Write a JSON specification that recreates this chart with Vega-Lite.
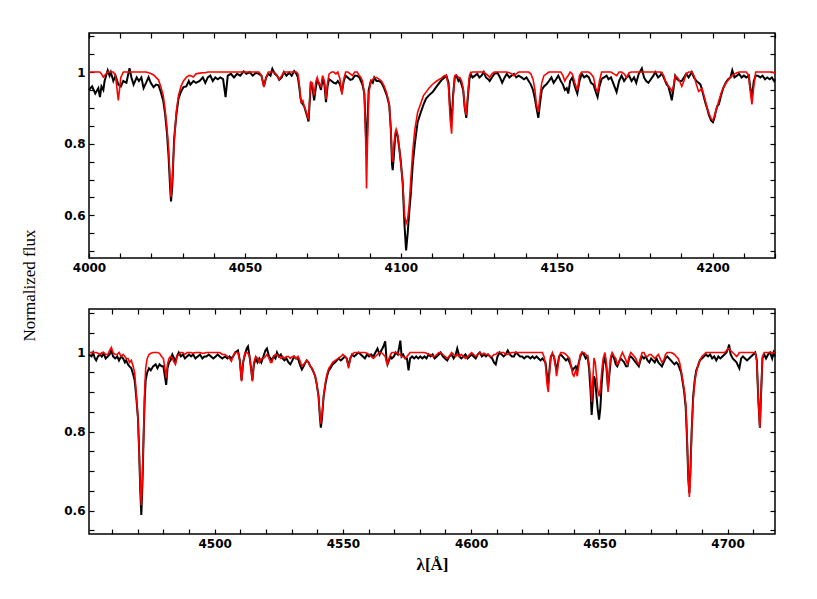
{
  "$schema": "https://vega.github.io/schema/vega-lite/v6.json",
  "background": "white",
  "padding": {"left": 19, "top": 29, "right": 20, "bottom": 10},
  "spacing": 51,
  "bounds": "flush",
  "config": {
    "view": {"stroke": "black", "strokeWidth": 1.5},
    "axis": {
      "grid": false, "domain": false, "tickColor": "black", "tickWidth": 1.2, "tickSize": -5,
      "labelFont": "DejaVu Sans", "labelFontWeight": "bold", "labelFontSize": 12, "labelColor": "black",
      "labelFlush": false, "labelOverlap": false,
      "titleColor": "black", "titleFontWeight": "normal"
    }
  },
  "datasets": {
    "p1": [
      {"w":4000,"o":0.95,"m":1.0},{"w":4001,"o":0.96,"m":1.0},{"w":4002,"o":0.94,"m":1.0},{"w":4003,"o":0.955,"m":1.0},{"w":4003.5,"o":0.93,"m":1.0},
      {"w":4004,"o":0.96,"m":0.995},{"w":4004.6,"o":0.95,"m":0.986},{"w":4005,"o":0.975,"m":0.99},{"w":4006,"o":1.005,"m":1.0},{"w":4006.6,"o":0.99,"m":1.0},
      {"w":4007,"o":1.0,"m":1.0},{"w":4007.8,"o":0.975,"m":1.0},{"w":4008.5,"o":0.99,"m":0.99},{"w":4009.4,"o":0.965,"m":0.921},{"w":4010.2,"o":0.96,"m":0.985},
      {"w":4011,"o":0.975,"m":1.0},{"w":4012,"o":0.97,"m":1.0},{"w":4013,"o":1.011,"m":1.0},{"w":4013.6,"o":0.985,"m":1.0},{"w":4014.3,"o":0.965,"m":1.0},
      {"w":4015.3,"o":0.985,"m":1.0},{"w":4016,"o":0.975,"m":1.0},{"w":4016.8,"o":0.985,"m":1.0},{"w":4017.5,"o":0.955,"m":1.0},{"w":4018.3,"o":0.97,"m":1.0},
      {"w":4019.1,"o":0.986,"m":0.998},{"w":4019.8,"o":0.97,"m":0.996},{"w":4020.7,"o":0.958,"m":0.992},{"w":4021.5,"o":0.965,"m":0.985},{"w":4022.3,"o":0.963,"m":0.978},
      {"w":4023,"o":0.945,"m":0.96},{"w":4023.8,"o":0.92,"m":0.935},{"w":4024.4,"o":0.884,"m":0.895},{"w":4025,"o":0.83,"m":0.845},{"w":4025.5,"o":0.768,"m":0.79},
      {"w":4026,"o":0.68,"m":0.7},{"w":4026.3,"o":0.639,"m":0.651},{"w":4026.7,"o":0.68,"m":0.7},{"w":4027.3,"o":0.814,"m":0.8},{"w":4028,"o":0.88,"m":0.89},
      {"w":4028.7,"o":0.926,"m":0.935},{"w":4029.5,"o":0.945,"m":0.96},{"w":4030.3,"o":0.958,"m":0.975},{"w":4031.2,"o":0.96,"m":0.985},{"w":4032,"o":0.975,"m":0.99},
      {"w":4032.5,"o":0.965,"m":0.99},{"w":4033.5,"o":0.975,"m":0.986},{"w":4034.3,"o":0.97,"m":0.995},{"w":4035.5,"o":0.975,"m":0.997},{"w":4036.5,"o":0.985,"m":0.998},
      {"w":4037.3,"o":0.97,"m":0.998},{"w":4038.1,"o":0.985,"m":1.0},{"w":4038.9,"o":0.99,"m":1.0},{"w":4039.7,"o":0.975,"m":1.0},{"w":4040.5,"o":0.985,"m":1.0},
      {"w":4041.3,"o":0.98,"m":1.0},{"w":4042.1,"o":0.985,"m":1.0},{"w":4043,"o":0.98,"m":1.0},{"w":4043.8,"o":0.93,"m":1.0},{"w":4044.5,"o":0.99,"m":1.0},
      {"w":4045.5,"o":0.995,"m":1.0},{"w":4046.5,"o":0.985,"m":1.0},{"w":4047.5,"o":0.995,"m":1.0},{"w":4048.5,"o":0.99,"m":1.0},{"w":4049.6,"o":1.002,"m":1.0},
      {"w":4050.5,"o":0.995,"m":1.0},{"w":4051.5,"o":1.0,"m":1.0},{"w":4052.5,"o":0.99,"m":1.0},{"w":4053.5,"o":0.998,"m":1.0},{"w":4054.5,"o":0.995,"m":1.0},
      {"w":4055.3,"o":0.99,"m":0.99},{"w":4056.1,"o":0.96,"m":0.958},{"w":4056.8,"o":0.985,"m":0.985},{"w":4057.5,"o":0.995,"m":1.0},{"w":4058.2,"o":0.99,"m":1.0},
      {"w":4058.8,"o":1.009,"m":1.0},{"w":4059.6,"o":0.995,"m":0.998},{"w":4060.3,"o":0.99,"m":0.99},{"w":4061,"o":0.978,"m":0.98},{"w":4061.8,"o":0.985,"m":0.99},
      {"w":4062.5,"o":1.0,"m":1.0},{"w":4063.3,"o":0.99,"m":1.0},{"w":4064.2,"o":0.998,"m":1.0},{"w":4065,"o":0.99,"m":1.0},{"w":4065.8,"o":1.003,"m":1.0},
      {"w":4066.5,"o":0.995,"m":1.0},{"w":4067,"o":0.985,"m":0.995},{"w":4067.4,"o":0.96,"m":0.97},{"w":4067.8,"o":0.93,"m":0.93},{"w":4068.1,"o":0.916,"m":0.915},
      {"w":4068.6,"o":0.91,"m":0.92},{"w":4069,"o":0.905,"m":0.905},{"w":4069.5,"o":0.89,"m":0.893},{"w":4070,"o":0.875,"m":0.88},{"w":4070.4,"o":0.862,"m":0.868},
      {"w":4070.8,"o":0.92,"m":0.93},{"w":4071.1,"o":0.965,"m":0.972},{"w":4071.6,"o":0.96,"m":0.97},{"w":4072.2,"o":0.921,"m":0.935},{"w":4072.8,"o":0.96,"m":0.975},
      {"w":4073.2,"o":0.975,"m":0.985},{"w":4073.7,"o":0.97,"m":0.97},{"w":4074.4,"o":0.95,"m":0.96},{"w":4074.9,"o":0.98,"m":0.99},{"w":4075.5,"o":0.965,"m":0.975},
      {"w":4076,"o":0.916,"m":0.925},{"w":4076.5,"o":0.96,"m":0.97},{"w":4077,"o":0.98,"m":0.995},{"w":4077.8,"o":0.975,"m":1.0},{"w":4078.5,"o":0.97,"m":1.0},
      {"w":4079.2,"o":0.968,"m":0.995},{"w":4079.8,"o":0.975,"m":1.0},{"w":4080.5,"o":0.965,"m":0.98},{"w":4081.1,"o":0.944,"m":0.937},{"w":4081.7,"o":0.975,"m":0.98},
      {"w":4082.3,"o":0.99,"m":1.0},{"w":4083,"o":0.985,"m":1.0},{"w":4083.8,"o":0.978,"m":0.995},{"w":4084.5,"o":0.98,"m":0.99},{"w":4085.2,"o":0.99,"m":1.0},
      {"w":4086,"o":0.99,"m":1.0},{"w":4086.7,"o":0.985,"m":0.99},{"w":4087.2,"o":0.975,"m":0.985},{"w":4087.7,"o":0.965,"m":0.975},{"w":4088.3,"o":0.94,"m":0.94},
      {"w":4088.7,"o":0.85,"m":0.82},{"w":4089,"o":0.77,"m":0.675},{"w":4089.3,"o":0.85,"m":0.8},{"w":4089.7,"o":0.95,"m":0.94},{"w":4090.4,"o":0.975,"m":0.975},
      {"w":4091,"o":0.97,"m":0.98},{"w":4091.5,"o":0.985,"m":0.985},{"w":4092.2,"o":0.975,"m":0.985},{"w":4093,"o":0.975,"m":0.98},{"w":4093.8,"o":0.97,"m":0.975},
      {"w":4094.7,"o":0.954,"m":0.96},{"w":4095.5,"o":0.935,"m":0.94},{"w":4096.3,"o":0.907,"m":0.91},{"w":4096.8,"o":0.84,"m":0.84},{"w":4097.2,"o":0.74,"m":0.76},
      {"w":4097.4,"o":0.726,"m":0.749},{"w":4097.8,"o":0.77,"m":0.8},{"w":4098.2,"o":0.82,"m":0.83},{"w":4098.5,"o":0.837,"m":0.84},{"w":4099,"o":0.82,"m":0.825},
      {"w":4099.5,"o":0.786,"m":0.79},{"w":4100,"o":0.75,"m":0.745},{"w":4100.6,"o":0.69,"m":0.693},{"w":4101.2,"o":0.57,"m":0.6},{"w":4101.7,"o":0.502,"m":0.577},
      {"w":4102.2,"o":0.55,"m":0.59},{"w":4102.7,"o":0.609,"m":0.63},{"w":4103.2,"o":0.66,"m":0.7},{"w":4103.8,"o":0.74,"m":0.777},{"w":4104.5,"o":0.8,"m":0.84},
      {"w":4105.4,"o":0.861,"m":0.888},{"w":4106.5,"o":0.89,"m":0.915},{"w":4107.3,"o":0.91,"m":0.935},{"w":4108.1,"o":0.926,"m":0.944},{"w":4109,"o":0.935,"m":0.955},
      {"w":4110.2,"o":0.944,"m":0.966},{"w":4111.5,"o":0.96,"m":0.975},{"w":4113,"o":0.977,"m":0.983},{"w":4114,"o":0.985,"m":0.99},{"w":4114.6,"o":0.99,"m":0.99},
      {"w":4115.3,"o":0.97,"m":0.96},{"w":4115.8,"o":0.9,"m":0.87},{"w":4116.3,"o":0.86,"m":0.828},{"w":4116.8,"o":0.94,"m":0.93},{"w":4117.3,"o":0.985,"m":0.99},
      {"w":4117.8,"o":0.99,"m":0.992},{"w":4118.5,"o":0.975,"m":0.985},{"w":4118.9,"o":0.98,"m":0.985},{"w":4119.5,"o":0.965,"m":0.975},{"w":4120,"o":0.95,"m":0.955},
      {"w":4120.5,"o":0.9,"m":0.9},{"w":4121,"o":0.872,"m":0.88},{"w":4121.5,"o":0.93,"m":0.94},{"w":4122,"o":0.98,"m":0.99},{"w":4122.4,"o":0.995,"m":0.998},
      {"w":4123,"o":0.985,"m":1.0},{"w":4123.8,"o":0.99,"m":1.0},{"w":4124.5,"o":0.995,"m":1.0},{"w":4125.2,"o":0.985,"m":1.0},{"w":4125.9,"o":0.99,"m":1.0},
      {"w":4126.6,"o":1.0,"m":1.0},{"w":4127.3,"o":0.985,"m":0.995},{"w":4128,"o":0.98,"m":0.99},{"w":4128.5,"o":0.975,"m":0.985},{"w":4129.2,"o":0.985,"m":0.995},
      {"w":4130,"o":0.995,"m":1.0},{"w":4131,"o":0.998,"m":1.0},{"w":4131.8,"o":0.985,"m":1.0},{"w":4132.5,"o":0.97,"m":1.0},{"w":4133.3,"o":0.985,"m":1.0},
      {"w":4134,"o":0.995,"m":1.0},{"w":4134.8,"o":0.985,"m":0.998},{"w":4135.5,"o":0.99,"m":0.995},{"w":4136.3,"o":0.995,"m":0.99},{"w":4137,"o":0.985,"m":0.995},
      {"w":4137.8,"o":0.99,"m":1.0},{"w":4138.7,"o":0.985,"m":1.0},{"w":4139.5,"o":0.98,"m":1.0},{"w":4140.3,"o":0.985,"m":1.0},{"w":4141,"o":0.975,"m":1.0},
      {"w":4141.7,"o":0.965,"m":0.995},{"w":4142.4,"o":0.95,"m":0.98},{"w":4143,"o":0.926,"m":0.95},{"w":4143.5,"o":0.9,"m":0.91},{"w":4144.1,"o":0.872,"m":0.888},
      {"w":4144.6,"o":0.91,"m":0.93},{"w":4145.2,"o":0.95,"m":0.97},{"w":4145.9,"o":0.96,"m":0.99},{"w":4146.7,"o":0.966,"m":0.995},{"w":4147.5,"o":0.975,"m":1.0},
      {"w":4148.3,"o":0.985,"m":1.0},{"w":4149,"o":0.97,"m":1.0},{"w":4149.8,"o":0.98,"m":1.0},{"w":4150.5,"o":0.99,"m":1.0},{"w":4151.3,"o":0.975,"m":1.0},
      {"w":4152,"o":0.965,"m":0.99},{"w":4152.6,"o":0.95,"m":0.975},{"w":4153.2,"o":0.955,"m":0.985},{"w":4153.7,"o":0.94,"m":0.99},{"w":4154.3,"o":0.975,"m":1.0},
      {"w":4155,"o":0.985,"m":0.995},{"w":4155.8,"o":0.96,"m":0.97},{"w":4156.6,"o":0.94,"m":0.949},{"w":4157.3,"o":0.975,"m":0.99},{"w":4158,"o":0.995,"m":1.0},
      {"w":4158.8,"o":0.985,"m":1.0},{"w":4159.6,"o":0.99,"m":1.0},{"w":4160.3,"o":0.985,"m":1.0},{"w":4161,"o":0.97,"m":0.995},{"w":4161.8,"o":0.965,"m":0.985},
      {"w":4162.5,"o":0.945,"m":0.955},{"w":4163.1,"o":0.93,"m":0.944},{"w":4163.7,"o":0.96,"m":0.975},{"w":4164.4,"o":0.981,"m":1.0},{"w":4165.2,"o":0.985,"m":1.0},
      {"w":4166,"o":0.99,"m":1.0},{"w":4166.6,"o":0.98,"m":1.0},{"w":4167.4,"o":0.985,"m":1.0},{"w":4168.3,"o":0.965,"m":0.995},{"w":4169.2,"o":0.944,"m":0.99},
      {"w":4170,"o":0.975,"m":1.0},{"w":4170.8,"o":0.99,"m":1.0},{"w":4171.6,"o":0.975,"m":0.995},{"w":4172.4,"o":0.985,"m":0.985},{"w":4173.2,"o":0.99,"m":0.998},
      {"w":4174,"o":0.975,"m":1.0},{"w":4174.8,"o":0.985,"m":1.0},{"w":4175.5,"o":0.97,"m":1.0},{"w":4176.3,"o":0.995,"m":1.0},{"w":4177.3,"o":1.01,"m":1.0},
      {"w":4178,"o":0.985,"m":1.0},{"w":4178.7,"o":0.975,"m":1.0},{"w":4179.4,"o":0.97,"m":1.0},{"w":4180.2,"o":0.98,"m":1.0},{"w":4181,"o":0.99,"m":1.0},
      {"w":4181.6,"o":1.0,"m":1.0},{"w":4182.5,"o":0.985,"m":1.0},{"w":4183.2,"o":0.99,"m":1.0},{"w":4183.7,"o":0.997,"m":0.998},{"w":4184.3,"o":0.985,"m":0.99},
      {"w":4184.8,"o":0.975,"m":0.975},{"w":4185.3,"o":0.965,"m":0.97},{"w":4185.8,"o":0.96,"m":0.96},{"w":4186.4,"o":0.94,"m":0.955},{"w":4186.9,"o":0.921,"m":0.946},
      {"w":4187.4,"o":0.95,"m":0.96},{"w":4188,"o":0.99,"m":0.99},{"w":4188.7,"o":0.98,"m":0.985},{"w":4189.4,"o":0.975,"m":0.975},{"w":4190.1,"o":0.975,"m":0.96},
      {"w":4190.8,"o":0.985,"m":0.975},{"w":4191.5,"o":0.995,"m":0.995},{"w":4192.3,"o":0.985,"m":1.0},{"w":4193.3,"o":1.0,"m":1.0},{"w":4194,"o":0.985,"m":0.99},
      {"w":4194.8,"o":0.975,"m":0.965},{"w":4195.5,"o":0.97,"m":0.946},{"w":4196.1,"o":0.965,"m":0.95},{"w":4196.6,"o":0.95,"m":0.954},{"w":4197.2,"o":0.93,"m":0.935},
      {"w":4197.8,"o":0.91,"m":0.915},{"w":4198.2,"o":0.9,"m":0.9},{"w":4198.8,"o":0.88,"m":0.885},{"w":4199.5,"o":0.865,"m":0.87},{"w":4200.1,"o":0.86,"m":0.865},
      {"w":4200.5,"o":0.87,"m":0.875},{"w":4201,"o":0.89,"m":0.89},{"w":4201.5,"o":0.905,"m":0.905},{"w":4202,"o":0.91,"m":0.92},{"w":4202.7,"o":0.935,"m":0.94},
      {"w":4203.4,"o":0.955,"m":0.955},{"w":4204.2,"o":0.97,"m":0.968},{"w":4205,"o":0.98,"m":0.978},{"w":4205.7,"o":0.985,"m":0.985},{"w":4206.3,"o":1.005,"m":0.99},
      {"w":4207,"o":0.985,"m":0.995},{"w":4207.8,"o":0.99,"m":0.998},{"w":4208.5,"o":0.995,"m":1.0},{"w":4209.3,"o":0.985,"m":1.0},{"w":4210,"o":0.99,"m":1.0},
      {"w":4210.8,"o":0.985,"m":1.0},{"w":4211.6,"o":0.99,"m":0.99},{"w":4212,"o":0.96,"m":0.95},{"w":4212.6,"o":0.93,"m":0.91},{"w":4213.2,"o":0.975,"m":0.96},
      {"w":4213.8,"o":0.99,"m":1.0},{"w":4214.5,"o":0.99,"m":1.0},{"w":4215.3,"o":0.985,"m":1.0},{"w":4216,"o":0.99,"m":1.0},{"w":4216.8,"o":0.98,"m":1.0},
      {"w":4217.5,"o":0.985,"m":1.0},{"w":4218.3,"o":0.98,"m":1.0},{"w":4219,"o":0.985,"m":1.0},{"w":4219.7,"o":0.975,"m":0.998},{"w":4220,"o":0.98,"m":1.0}
    ],
    "p2": [
      {"w":4451,"o":0.995,"m":1.0},{"w":4452,"o":0.99,"m":1.0},{"w":4452.6,"o":1.0,"m":1.0},{"w":4453.3,"o":0.985,"m":1.0},{"w":4453.8,"o":0.98,"m":1.0},
      {"w":4454.5,"o":0.99,"m":0.998},{"w":4455.3,"o":0.995,"m":0.995},{"w":4456,"o":0.99,"m":1.0},{"w":4456.7,"o":0.998,"m":1.0},{"w":4457.5,"o":0.985,"m":0.995},
      {"w":4458.3,"o":0.99,"m":0.995},{"w":4459,"o":0.995,"m":1.005},{"w":4459.7,"o":1.005,"m":1.013},{"w":4460.4,"o":0.99,"m":1.0},{"w":4461.2,"o":0.985,"m":0.995},
      {"w":4462,"o":0.99,"m":0.995},{"w":4462.7,"o":0.98,"m":1.0},{"w":4463.5,"o":0.99,"m":0.99},{"w":4464.3,"o":0.985,"m":0.995},{"w":4465,"o":0.975,"m":0.99},
      {"w":4465.5,"o":0.98,"m":0.985},{"w":4466.2,"o":0.97,"m":0.985},{"w":4466.8,"o":0.965,"m":0.975},{"w":4467.5,"o":0.96,"m":0.98},{"w":4468.2,"o":0.945,"m":0.965},
      {"w":4468.8,"o":0.93,"m":0.95},{"w":4469.4,"o":0.89,"m":0.9},{"w":4470.1,"o":0.834,"m":0.83},{"w":4470.6,"o":0.74,"m":0.74},{"w":4471,"o":0.65,"m":0.66},
      {"w":4471.4,"o":0.589,"m":0.614},{"w":4471.8,"o":0.66,"m":0.68},{"w":4472.3,"o":0.79,"m":0.79},{"w":4472.7,"o":0.88,"m":0.9},{"w":4473.1,"o":0.93,"m":0.96},
      {"w":4473.7,"o":0.95,"m":0.985},{"w":4474.4,"o":0.96,"m":0.995},{"w":4475.1,"o":0.955,"m":0.998},{"w":4476,"o":0.965,"m":1.0},{"w":4477,"o":0.97,"m":1.0},
      {"w":4477.7,"o":0.96,"m":1.0},{"w":4478.5,"o":0.97,"m":0.998},{"w":4479.3,"o":0.965,"m":0.99},{"w":4480,"o":0.965,"m":0.985},{"w":4480.6,"o":0.94,"m":0.96},
      {"w":4481.1,"o":0.918,"m":0.935},{"w":4481.6,"o":0.96,"m":0.97},{"w":4482.2,"o":0.975,"m":0.985},{"w":4482.8,"o":0.98,"m":0.99},{"w":4483.5,"o":0.995,"m":0.985},
      {"w":4484.2,"o":0.985,"m":0.975},{"w":4484.7,"o":0.975,"m":0.97},{"w":4485.3,"o":0.99,"m":0.99},{"w":4486,"o":1.0,"m":0.995},{"w":4486.8,"o":0.99,"m":1.0},
      {"w":4487.6,"o":0.995,"m":1.0},{"w":4488.4,"o":0.985,"m":0.995},{"w":4489.2,"o":0.99,"m":1.0},{"w":4490,"o":0.995,"m":1.0},{"w":4490.8,"o":0.99,"m":1.0},
      {"w":4491.6,"o":0.995,"m":0.998},{"w":4492.5,"o":0.985,"m":1.0},{"w":4493.4,"o":0.99,"m":1.0},{"w":4494.3,"o":0.995,"m":1.0},{"w":4495.2,"o":0.985,"m":0.998},
      {"w":4496,"o":0.99,"m":0.998},{"w":4496.8,"o":0.99,"m":1.0},{"w":4497.7,"o":0.995,"m":1.0},{"w":4498.6,"o":0.99,"m":1.0},{"w":4499.5,"o":0.985,"m":1.0},
      {"w":4500.4,"o":0.99,"m":1.0},{"w":4501.2,"o":0.995,"m":1.0},{"w":4502,"o":0.99,"m":1.0},{"w":4503,"o":0.985,"m":0.995},{"w":4504,"o":0.99,"m":0.995},
      {"w":4505,"o":0.985,"m":0.99},{"w":4505.8,"o":0.99,"m":0.985},{"w":4506.5,"o":0.985,"m":0.978},{"w":4507.2,"o":0.99,"m":0.99},{"w":4508,"o":1.0,"m":1.0},
      {"w":4509.1,"o":1.005,"m":1.0},{"w":4509.8,"o":0.98,"m":0.98},{"w":4510.5,"o":0.93,"m":0.927},{"w":4511.1,"o":0.975,"m":0.975},{"w":4511.8,"o":0.995,"m":1.0},
      {"w":4512.5,"o":1.01,"m":1.0},{"w":4513,"o":1.015,"m":0.998},{"w":4513.6,"o":0.99,"m":0.99},{"w":4514.2,"o":0.96,"m":0.96},{"w":4514.7,"o":0.93,"m":0.927},
      {"w":4515.3,"o":0.97,"m":0.975},{"w":4516,"o":0.985,"m":0.99},{"w":4516.7,"o":0.975,"m":0.985},{"w":4517.4,"o":0.985,"m":0.975},{"w":4518.2,"o":0.975,"m":0.985},
      {"w":4519,"o":0.99,"m":0.985},{"w":4519.8,"o":1.005,"m":0.99},{"w":4520.4,"o":1.01,"m":0.995},{"w":4521.2,"o":0.99,"m":0.985},{"w":4521.8,"o":0.985,"m":0.975},
      {"w":4522.3,"o":0.98,"m":0.975},{"w":4523,"o":0.99,"m":0.99},{"w":4523.7,"o":0.985,"m":0.995},{"w":4524.3,"o":1.0,"m":0.995},{"w":4525,"o":0.99,"m":0.99},
      {"w":4525.8,"o":0.995,"m":0.985},{"w":4526.5,"o":0.985,"m":0.99},{"w":4527.2,"o":0.98,"m":0.985},{"w":4528,"o":0.985,"m":0.99},{"w":4528.8,"o":0.975,"m":0.99},
      {"w":4529.5,"o":0.97,"m":0.985},{"w":4530.3,"o":0.98,"m":0.99},{"w":4531,"o":0.99,"m":0.99},{"w":4531.7,"o":0.985,"m":0.985},{"w":4532.5,"o":0.985,"m":0.99},
      {"w":4533.2,"o":0.97,"m":0.98},{"w":4534,"o":0.957,"m":0.965},{"w":4534.7,"o":0.965,"m":0.97},{"w":4535.4,"o":0.975,"m":0.975},{"w":4535.9,"o":0.98,"m":0.98},
      {"w":4536.6,"o":0.975,"m":0.975},{"w":4537.3,"o":0.965,"m":0.965},{"w":4537.9,"o":0.96,"m":0.96},{"w":4538.6,"o":0.95,"m":0.95},{"w":4539.2,"o":0.94,"m":0.94},
      {"w":4539.8,"o":0.92,"m":0.92},{"w":4540.5,"o":0.89,"m":0.89},{"w":4541,"o":0.84,"m":0.845},{"w":4541.4,"o":0.81,"m":0.82},{"w":4541.8,"o":0.83,"m":0.84},
      {"w":4542.5,"o":0.89,"m":0.89},{"w":4543.2,"o":0.92,"m":0.925},{"w":4543.8,"o":0.94,"m":0.945},{"w":4544.5,"o":0.955,"m":0.96},{"w":4545.1,"o":0.96,"m":0.965},
      {"w":4546,"o":0.97,"m":0.975},{"w":4547,"o":0.975,"m":0.98},{"w":4548.3,"o":0.985,"m":0.985},{"w":4549.2,"o":0.98,"m":0.99},{"w":4550,"o":0.985,"m":0.995},
      {"w":4550.8,"o":0.99,"m":0.99},{"w":4551.5,"o":0.985,"m":0.985},{"w":4552.2,"o":0.965,"m":0.96},{"w":4552.9,"o":0.985,"m":0.985},{"w":4553.6,"o":0.995,"m":0.995},
      {"w":4554.4,"o":0.99,"m":1.0},{"w":4555.2,"o":0.995,"m":1.0},{"w":4556.1,"o":1.0,"m":1.0},{"w":4557,"o":0.995,"m":1.0},{"w":4557.8,"o":0.99,"m":1.0},
      {"w":4558.6,"o":0.985,"m":1.0},{"w":4559.4,"o":0.995,"m":0.998},{"w":4560.2,"o":0.99,"m":0.995},{"w":4561,"o":0.995,"m":0.99},{"w":4561.9,"o":0.99,"m":0.985},
      {"w":4562.7,"o":1.0,"m":0.99},{"w":4563.5,"o":1.01,"m":0.995},{"w":4564.3,"o":0.995,"m":1.0},{"w":4565,"o":1.005,"m":1.0},{"w":4565.8,"o":1.015,"m":0.995},
      {"w":4566.5,"o":1.028,"m":0.99},{"w":4567,"o":0.985,"m":0.975},{"w":4567.4,"o":0.97,"m":0.97},{"w":4568,"o":0.98,"m":0.985},{"w":4568.6,"o":0.99,"m":0.995},
      {"w":4569.1,"o":0.985,"m":1.0},{"w":4569.9,"o":0.99,"m":1.0},{"w":4570.6,"o":1.0,"m":1.0},{"w":4571.4,"o":0.995,"m":0.998},{"w":4572,"o":1.015,"m":0.995},
      {"w":4572.4,"o":1.03,"m":0.995},{"w":4572.9,"o":0.99,"m":0.99},{"w":4573.5,"o":0.995,"m":0.99},{"w":4574.3,"o":0.985,"m":0.985},{"w":4575,"o":0.985,"m":0.99},
      {"w":4575.6,"o":0.955,"m":0.995},{"w":4576.2,"o":0.985,"m":1.0},{"w":4577,"o":0.99,"m":1.0},{"w":4577.8,"o":0.985,"m":1.0},{"w":4578.6,"o":0.99,"m":1.0},
      {"w":4579.4,"o":0.985,"m":1.0},{"w":4580.2,"o":0.99,"m":1.0},{"w":4581,"o":0.985,"m":1.0},{"w":4581.8,"o":0.99,"m":1.0},{"w":4582.6,"o":0.985,"m":0.998},
      {"w":4583.4,"o":0.995,"m":0.995},{"w":4584.2,"o":0.99,"m":0.995},{"w":4585,"o":0.995,"m":0.99},{"w":4585.8,"o":0.985,"m":0.99},{"w":4586.6,"o":0.99,"m":0.995},
      {"w":4587.4,"o":0.995,"m":1.0},{"w":4588.1,"o":1.0,"m":1.0},{"w":4589,"o":0.99,"m":0.995},{"w":4589.8,"o":0.985,"m":0.99},{"w":4590.7,"o":0.98,"m":0.985},
      {"w":4591.5,"o":0.99,"m":0.99},{"w":4592.4,"o":0.995,"m":1.0},{"w":4593.2,"o":0.985,"m":0.995},{"w":4594,"o":0.995,"m":0.99},{"w":4594.6,"o":1.01,"m":0.995},
      {"w":4595.4,"o":0.99,"m":0.99},{"w":4596.2,"o":0.985,"m":0.995},{"w":4597,"o":0.99,"m":0.99},{"w":4597.8,"o":0.995,"m":0.985},{"w":4598.6,"o":0.985,"m":0.99},
      {"w":4599.4,"o":0.99,"m":0.995},{"w":4600.2,"o":0.995,"m":1.0},{"w":4601,"o":0.99,"m":0.995},{"w":4601.8,"o":0.985,"m":0.99},{"w":4602.6,"o":0.995,"m":0.995},
      {"w":4603.4,"o":1.0,"m":1.0},{"w":4604.2,"o":0.99,"m":0.995},{"w":4605,"o":0.995,"m":0.998},{"w":4605.8,"o":0.99,"m":0.995},{"w":4606.6,"o":0.995,"m":0.995},
      {"w":4607.4,"o":0.99,"m":0.99},{"w":4608.2,"o":0.985,"m":0.99},{"w":4608.9,"o":0.975,"m":0.995},{"w":4609.6,"o":0.97,"m":0.995},{"w":4610.3,"o":0.99,"m":1.0},
      {"w":4611.1,"o":1.0,"m":1.0},{"w":4611.9,"o":0.995,"m":1.0},{"w":4612.7,"o":0.99,"m":1.0},{"w":4613.5,"o":0.995,"m":0.995},{"w":4614.3,"o":1.005,"m":0.995},
      {"w":4615.1,"o":0.995,"m":0.998},{"w":4615.9,"o":0.99,"m":1.0},{"w":4616.7,"o":0.99,"m":1.0},{"w":4617.5,"o":1.0,"m":1.0},{"w":4618.3,"o":0.995,"m":1.0},
      {"w":4619.1,"o":0.99,"m":1.0},{"w":4619.9,"o":0.99,"m":1.0},{"w":4620.7,"o":0.985,"m":1.0},{"w":4621.5,"o":0.99,"m":1.0},{"w":4622.3,"o":0.99,"m":1.0},
      {"w":4623.1,"o":0.985,"m":1.0},{"w":4623.9,"o":0.99,"m":1.0},{"w":4624.7,"o":0.985,"m":1.0},{"w":4625.5,"o":0.99,"m":1.0},{"w":4626.3,"o":0.985,"m":1.0},
      {"w":4627.1,"o":0.98,"m":1.0},{"w":4627.8,"o":0.985,"m":1.0},{"w":4628.4,"o":0.98,"m":0.99},{"w":4629,"o":0.975,"m":0.97},{"w":4629.6,"o":0.94,"m":0.92},
      {"w":4630.1,"o":0.92,"m":0.9},{"w":4630.6,"o":0.96,"m":0.95},{"w":4631.1,"o":0.99,"m":0.99},{"w":4631.7,"o":0.995,"m":1.0},{"w":4632.3,"o":0.99,"m":0.99},
      {"w":4632.9,"o":0.97,"m":0.965},{"w":4633.3,"o":0.955,"m":0.94},{"w":4633.8,"o":0.97,"m":0.96},{"w":4634.3,"o":0.99,"m":0.99},{"w":4635,"o":0.995,"m":1.0},
      {"w":4635.6,"o":0.99,"m":1.0},{"w":4636.3,"o":0.985,"m":0.998},{"w":4637,"o":0.98,"m":0.995},{"w":4637.7,"o":0.985,"m":0.99},{"w":4638.4,"o":0.975,"m":0.985},
      {"w":4639,"o":0.965,"m":0.965},{"w":4639.6,"o":0.955,"m":0.945},{"w":4640.1,"o":0.96,"m":0.94},{"w":4640.8,"o":0.965,"m":0.955},{"w":4641.4,"o":0.955,"m":0.94},
      {"w":4642,"o":0.975,"m":0.97},{"w":4642.6,"o":0.99,"m":0.995},{"w":4643.3,"o":1.0,"m":1.0},{"w":4644,"o":0.995,"m":1.0},{"w":4644.7,"o":0.985,"m":0.995},
      {"w":4645.4,"o":0.99,"m":0.99},{"w":4646,"o":0.96,"m":0.97},{"w":4646.6,"o":0.9,"m":0.93},{"w":4647,"o":0.842,"m":0.875},{"w":4647.4,"o":0.88,"m":0.92},
      {"w":4647.9,"o":0.94,"m":0.986},{"w":4648.4,"o":0.93,"m":0.975},{"w":4648.9,"o":0.89,"m":0.94},{"w":4649.4,"o":0.855,"m":0.905},{"w":4649.9,"o":0.83,"m":0.889},
      {"w":4650.4,"o":0.86,"m":0.91},{"w":4650.9,"o":0.92,"m":0.95},{"w":4651.5,"o":0.97,"m":0.985},{"w":4652.2,"o":0.99,"m":1.0},{"w":4652.8,"o":0.96,"m":0.97},
      {"w":4653.4,"o":0.91,"m":0.9},{"w":4654,"o":0.95,"m":0.96},{"w":4654.5,"o":0.985,"m":0.99},{"w":4655,"o":0.995,"m":1.0},{"w":4655.8,"o":0.985,"m":0.99},
      {"w":4656.4,"o":0.97,"m":0.985},{"w":4657,"o":0.965,"m":0.97},{"w":4657.6,"o":0.975,"m":0.975},{"w":4658.3,"o":0.985,"m":0.99},{"w":4659,"o":0.98,"m":1.0},
      {"w":4659.7,"o":0.975,"m":0.99},{"w":4660.4,"o":0.965,"m":0.98},{"w":4661,"o":0.965,"m":0.97},{"w":4661.6,"o":0.985,"m":0.99},{"w":4662.3,"o":0.99,"m":1.0},
      {"w":4663,"o":0.985,"m":0.995},{"w":4663.6,"o":0.98,"m":0.99},{"w":4664.2,"o":0.975,"m":0.985},{"w":4664.8,"o":0.97,"m":0.975},{"w":4665.4,"o":0.965,"m":0.97},
      {"w":4666,"o":0.98,"m":0.985},{"w":4666.7,"o":0.99,"m":1.0},{"w":4667.4,"o":0.985,"m":1.0},{"w":4668.1,"o":0.99,"m":0.99},{"w":4668.8,"o":0.98,"m":0.99},
      {"w":4669.5,"o":0.975,"m":0.995},{"w":4670.2,"o":0.985,"m":0.995},{"w":4670.9,"o":0.98,"m":0.99},{"w":4671.6,"o":0.975,"m":0.985},{"w":4672.3,"o":0.985,"m":0.99},
      {"w":4673,"o":0.975,"m":0.995},{"w":4673.7,"o":0.97,"m":0.985},{"w":4674.4,"o":0.965,"m":0.975},{"w":4675.1,"o":0.975,"m":0.98},{"w":4675.8,"o":0.985,"m":0.995},
      {"w":4676.5,"o":0.99,"m":1.0},{"w":4677.2,"o":0.985,"m":1.0},{"w":4677.9,"o":0.98,"m":1.0},{"w":4678.6,"o":0.975,"m":0.998},{"w":4679.3,"o":0.97,"m":0.995},
      {"w":4680,"o":0.975,"m":0.99},{"w":4680.7,"o":0.97,"m":0.985},{"w":4681.3,"o":0.96,"m":0.975},{"w":4681.9,"o":0.95,"m":0.955},{"w":4682.5,"o":0.925,"m":0.93},
      {"w":4683.1,"o":0.9,"m":0.905},{"w":4683.7,"o":0.86,"m":0.87},{"w":4684.2,"o":0.78,"m":0.79},{"w":4684.7,"o":0.68,"m":0.68},{"w":4685.1,"o":0.645,"m":0.635},
      {"w":4685.5,"o":0.7,"m":0.68},{"w":4686,"o":0.8,"m":0.8},{"w":4686.6,"o":0.89,"m":0.88},{"w":4687.2,"o":0.93,"m":0.925},{"w":4687.8,"o":0.955,"m":0.95},
      {"w":4688.4,"o":0.965,"m":0.965},{"w":4689.2,"o":0.98,"m":0.98},{"w":4690,"o":0.985,"m":0.99},{"w":4690.8,"o":0.99,"m":0.995},{"w":4691.6,"o":0.995,"m":1.0},
      {"w":4692.4,"o":0.99,"m":1.0},{"w":4693.2,"o":0.995,"m":1.0},{"w":4694,"o":0.985,"m":1.0},{"w":4694.8,"o":0.99,"m":1.0},{"w":4695.6,"o":0.98,"m":1.0},
      {"w":4696.4,"o":0.99,"m":1.0},{"w":4697.2,"o":0.985,"m":1.0},{"w":4698,"o":0.99,"m":1.0},{"w":4698.8,"o":0.995,"m":1.0},{"w":4699.6,"o":1.0,"m":1.005},
      {"w":4700.2,"o":1.01,"m":1.01},{"w":4700.6,"o":1.02,"m":1.01},{"w":4701.2,"o":0.995,"m":1.005},{"w":4702,"o":0.985,"m":1.0},{"w":4702.8,"o":0.98,"m":0.995},
      {"w":4703.5,"o":0.975,"m":0.99},{"w":4704.2,"o":0.965,"m":0.995},{"w":4704.6,"o":0.96,"m":1.0},{"w":4705.3,"o":0.985,"m":1.0},{"w":4706,"o":0.99,"m":1.0},
      {"w":4706.8,"o":0.985,"m":1.0},{"w":4707.6,"o":0.98,"m":1.0},{"w":4708.4,"o":0.985,"m":1.0},{"w":4709.2,"o":0.99,"m":1.0},{"w":4710,"o":0.995,"m":1.0},
      {"w":4710.8,"o":1.0,"m":1.0},{"w":4711.4,"o":0.98,"m":0.98},{"w":4712,"o":0.88,"m":0.88},{"w":4712.6,"o":0.81,"m":0.809},{"w":4713.1,"o":0.9,"m":0.9},
      {"w":4713.6,"o":0.985,"m":0.99},{"w":4714.3,"o":0.995,"m":1.0},{"w":4715,"o":0.985,"m":1.0},{"w":4715.8,"o":0.995,"m":1.0},{"w":4716.6,"o":1.0,"m":1.0},
      {"w":4717.4,"o":0.985,"m":1.0},{"w":4718,"o":1.0,"m":1.0},{"w":4718.5,"o":0.99,"m":1.0}
    ]
  },
  "vconcat": [
    {
      "width": 686, "height": 225,
      "data": {"name": "p1"},
      "layer": [
        {
          "mark": {"type": "line", "color": "black", "strokeWidth": 2},
          "encoding": {
            "x": {"field": "w", "type": "quantitative",
              "scale": {"domain": [4000, 4220], "nice": false, "zero": false},
              "axis": {"orient": "bottom", "title": null, "format": "d", "labelPadding": 9,
                "values": [4000,4010,4020,4030,4040,4050,4060,4070,4080,4090,4100,4110,4120,4130,4140,4150,4160,4170,4180,4190,4200,4210,4220],
                "labelExpr": "datum.value % 50 === 0 ? datum.label : ''"}},
            "y": {"field": "o", "type": "quantitative",
              "scale": {"domain": [0.481, 1.109], "nice": false, "zero": false},
              "axis": {"orient": "left", "title": "Normalized flux", "titleFont": "Liberation Serif", "titleFontSize": 17,
                "titleX": -55, "titleY": 252, "titleAngle": 270, "titleBaseline": "alphabetic", "titleAlign": "center",
                "labelPadding": 9,
                "values": [0.5,0.55,0.6,0.65,0.7,0.75,0.8,0.85,0.9,0.95,1.0,1.05,1.1],
                "labelExpr": "abs(datum.value*5 - round(datum.value*5)) < 0.001 ? format(datum.value, '.1~f') : ''"}}
          }
        },
        {
          "mark": {"type": "line", "color": "#ff0000", "strokeWidth": 1.6},
          "encoding": {
            "x": {"field": "w", "type": "quantitative",
              "scale": {"domain": [4000, 4220], "nice": false, "zero": false},
              "axis": {"orient": "top", "title": null, "labels": false,
                "values": [4000,4010,4020,4030,4040,4050,4060,4070,4080,4090,4100,4110,4120,4130,4140,4150,4160,4170,4180,4190,4200,4210,4220]}},
            "y": {"field": "m", "type": "quantitative",
              "scale": {"domain": [0.481, 1.109], "nice": false, "zero": false},
              "axis": {"orient": "right", "title": null, "labels": false,
                "values": [0.5,0.55,0.6,0.65,0.7,0.75,0.8,0.85,0.9,0.95,1.0,1.05,1.1]}}
          }
        }
      ],
      "resolve": {"axis": {"x": "independent", "y": "independent"}}
    },
    {
      "width": 686, "height": 225,
      "data": {"name": "p2"},
      "layer": [
        {
          "mark": {"type": "line", "color": "black", "strokeWidth": 2},
          "encoding": {
            "x": {"field": "w", "type": "quantitative",
              "scale": {"domain": [4451, 4718.5], "nice": false, "zero": false},
              "axis": {"orient": "bottom", "title": "λ[Å]", "titleFont": "Liberation Serif", "titleFontSize": 17, "titleFontWeight": "bold", "titlePadding": 7,
                "format": "d", "labelPadding": 9,
                "values": [4460,4470,4480,4490,4500,4510,4520,4530,4540,4550,4560,4570,4580,4590,4600,4610,4620,4630,4640,4650,4660,4670,4680,4690,4700,4710],
                "labelExpr": "datum.value % 50 === 0 ? datum.label : ''"}},
            "y": {"field": "o", "type": "quantitative",
              "scale": {"domain": [0.541, 1.11], "nice": false, "zero": false},
              "axis": {"orient": "left", "title": null, "labelPadding": 9,
                "values": [0.55,0.6,0.65,0.7,0.75,0.8,0.85,0.9,0.95,1.0,1.05,1.1],
                "labelExpr": "abs(datum.value*5 - round(datum.value*5)) < 0.001 ? format(datum.value, '.1~f') : ''"}}
          }
        },
        {
          "mark": {"type": "line", "color": "#ff0000", "strokeWidth": 1.6},
          "encoding": {
            "x": {"field": "w", "type": "quantitative",
              "scale": {"domain": [4451, 4718.5], "nice": false, "zero": false},
              "axis": {"orient": "top", "title": null, "labels": false,
                "values": [4460,4470,4480,4490,4500,4510,4520,4530,4540,4550,4560,4570,4580,4590,4600,4610,4620,4630,4640,4650,4660,4670,4680,4690,4700,4710]}},
            "y": {"field": "m", "type": "quantitative",
              "scale": {"domain": [0.541, 1.11], "nice": false, "zero": false},
              "axis": {"orient": "right", "title": null, "labels": false,
                "values": [0.55,0.6,0.65,0.7,0.75,0.8,0.85,0.9,0.95,1.0,1.05,1.1]}}
          }
        }
      ],
      "resolve": {"axis": {"x": "independent", "y": "independent"}}
    }
  ]
}
